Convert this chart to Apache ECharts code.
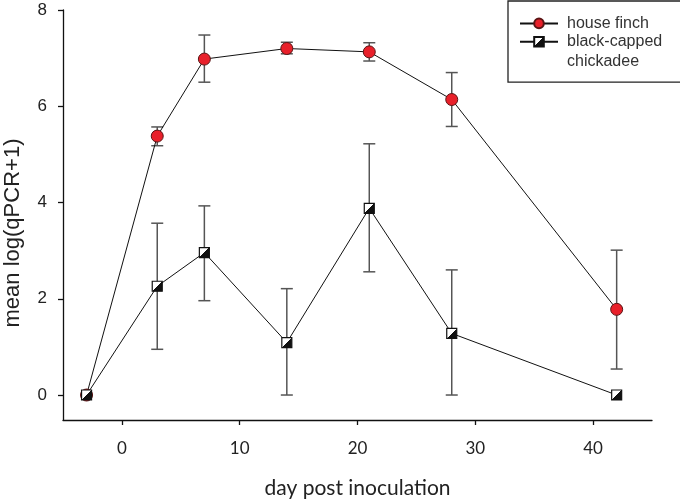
<!DOCTYPE html>
<html>
<head>
<meta charset="utf-8">
<script src="https://cdn.jsdelivr.net/npm/echarts@6/dist/echarts.min.js"></script>
<style>html,body{margin:0;padding:0;background:#fff}#c{width:680px;height:500px}</style>
</head>
<body>
<div id="c"></div>
<script>
// ---- data ----
const days = [-3, 3, 7, 14, 21, 28, 42];
const finchMean = [0, 5.38, 6.98, 7.20, 7.13, 6.14, 1.78];
const finchLo   = [null, 5.18, 6.50, 7.09, 6.94, 5.58, 0.54];
const finchHi   = [null, 5.57, 7.48, 7.33, 7.32, 6.70, 3.01];
const chickMean = [0, 2.26, 2.96, 1.09, 3.88, 1.28, 0];
const chickLo   = [null, 0.95, 1.96, 0, 2.56, 0, null];
const chickHi   = [null, 3.57, 3.93, 2.21, 5.22, 2.60, null];
const xTicks = [0, 10, 20, 30, 40];
const yTicks = [0, 2, 4, 6, 8];
const finchName = 'house finch';
const chickName = 'black-capped chickadee';

const pts = (m) => days.map((d, i) => [d, m[i]]);
const errs = (lo, hi) => days.map((d, i) => [d, lo[i], hi[i]]).filter(r => r[1] != null);

function errRender(params, api) {
  const x = api.value(0), lo = api.value(1), hi = api.value(2);
  const a = api.coord([x, lo]), b = api.coord([x, hi]);
  const hw = 6;
  const st = {stroke: '#555', lineWidth: 1.5};
  return {type: 'group', children: [
    {type: 'line', shape: {x1: a[0], y1: a[1], x2: b[0], y2: b[1]}, style: st},
    {type: 'line', shape: {x1: a[0] - hw, y1: a[1], x2: a[0] + hw, y2: a[1]}, style: st},
    {type: 'line', shape: {x1: b[0] - hw, y1: b[1], x2: b[0] + hw, y2: b[1]}, style: st}
  ]};
}

const halfFill = new echarts.graphic.LinearGradient(0, 0, 1, 1, [
  {offset: 0, color: '#ffffff'}, {offset: 0.5, color: '#ffffff'},
  {offset: 0.5, color: '#111111'}, {offset: 1, color: '#111111'}
]);

const chart = echarts.init(document.getElementById('c'), null, {renderer: 'canvas'});
chart.setOption({
  animation: false,
  backgroundColor: '#fff',
  grid: {left: 63, right: 28, top: 10, bottom: 80, containLabel: false, outerBoundsMode: 'none'},
  legend: {
    left: 508, top: 1,
    orient: 'vertical',
    selectedMode: false,
    borderColor: '#222', borderWidth: 1.3,
    padding: [10.7, 20, 10.4, 11],
    itemWidth: 38, itemHeight: 12, itemGap: -21.7,
    formatter: (n) => n === chickName ? '\nblack-capped\nchickadee' : n,
    textStyle: {fontFamily: 'Liberation Sans', fontSize: 16, color: '#333', lineHeight: 20, padding: [0, 0, 0, 4]},
    data: [finchName, chickName]
  },
  xAxis: {
    type: 'value', min: -5, max: 45,
    name: 'day post inoculation', nameLocation: 'middle', nameGap: 58,
    nameTextStyle: {fontFamily: 'Lato', fontSize: 21, color: '#222'},
    axisLine: {onZero: false, lineStyle: {color: '#111', width: 1.3}},
    axisTick: {show: true, length: 5, customValues: xTicks, lineStyle: {color: '#111', width: 1.3}},
    axisLabel: {customValues: xTicks, margin: 20, fontFamily: 'Lato', fontSize: 17, color: '#222'},
    splitLine: {show: false}
  },
  yAxis: {
    type: 'value', min: -0.519, max: 8,
    name: 'mean log(qPCR+1)', nameLocation: 'middle', nameGap: 39,
    nameTextStyle: {fontFamily: 'Liberation Sans', fontSize: 22, color: '#222', padding: [0, 36, 0, 0]},
    axisLine: {onZero: false, lineStyle: {color: '#111', width: 1.3}},
    axisTick: {show: true, length: 5, customValues: yTicks, lineStyle: {color: '#111', width: 1.3}},
    axisLabel: {customValues: yTicks, margin: 16, fontFamily: 'Liberation Sans', fontSize: 17, color: '#222'},
    splitLine: {show: false}
  },
  series: [
    {type: 'custom', name: 'finchErr', renderItem: errRender, data: errs(finchLo, finchHi),
     encode: {x: 0, y: [1, 2]}, silent: true, z: 1},
    {type: 'custom', name: 'chickErr', renderItem: errRender, data: errs(chickLo, chickHi),
     encode: {x: 0, y: [1, 2]}, silent: true, z: 1},
    {type: 'line', name: finchName, data: pts(finchMean), z: 3,
     symbol: 'circle', symbolSize: 12, showSymbol: true,
     lineStyle: {color: '#111', width: 1},
     itemStyle: {color: '#e8202a', borderColor: '#5a1414', borderWidth: 1},
     emphasis: {disabled: true}},
    {type: 'line', name: chickName, data: pts(chickMean), z: 4,
     symbol: 'rect', symbolSize: 10, showSymbol: true,
     lineStyle: {color: '#111', width: 1},
     itemStyle: {color: halfFill, borderColor: '#111', borderWidth: 1.2},
     emphasis: {disabled: true}}
  ]
});
</script>
</body>
</html>
